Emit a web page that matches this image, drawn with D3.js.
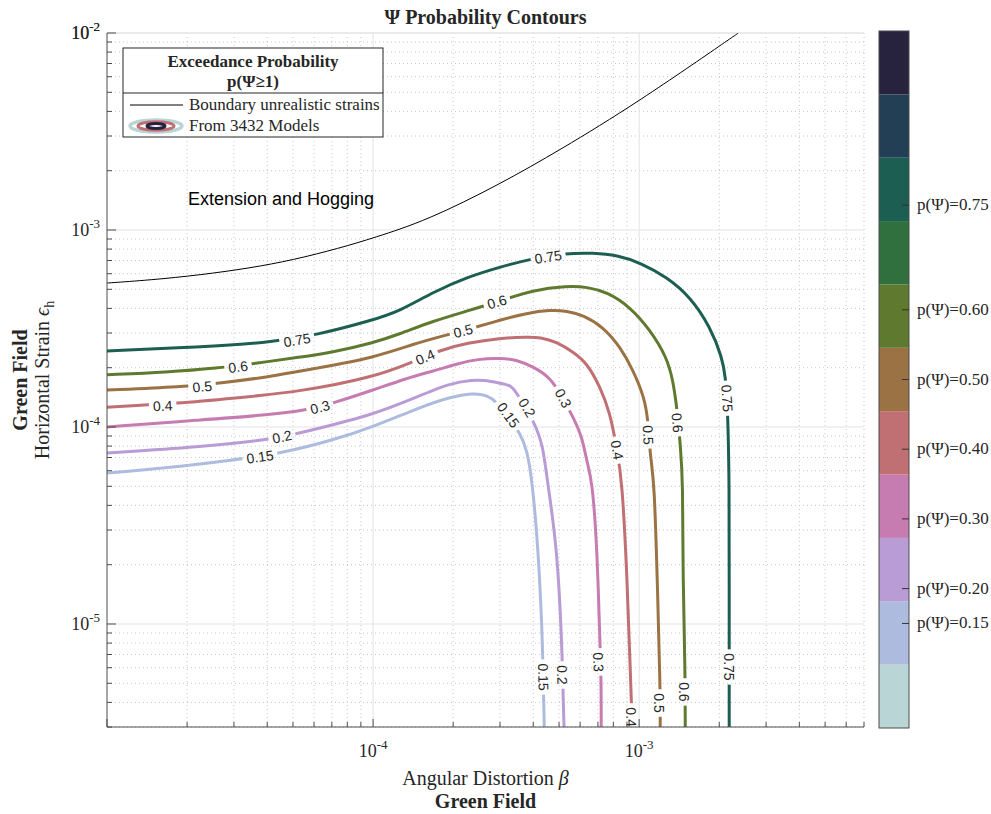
<!DOCTYPE html>
<html>
<head>
<meta charset="utf-8">
<script src="https://cdn.jsdelivr.net/npm/d3@7"></script>
<style>
  body { margin: 0; background: #fff; }
  svg { display: block; }
  .serif { font-family: "Liberation Serif", "Times New Roman", serif; fill: #262626; }
  .sans { font-family: "Liberation Sans", Arial, sans-serif; fill: #262626; }
</style>
</head>
<body>
<div id="chart"></div>
<script>
// levels drawn and colormap bands (bottom to top of colorbar)
const levels = [0.15, 0.2, 0.3, 0.4, 0.5, 0.6, 0.75];
const cmapColors = ["#b9d5d5", "#adbcde", "#b99bd6", "#c77cb1", "#c07073", "#9b7244",
                    "#5f7a2f", "#2f703e", "#1c5e52", "#233f55", "#27233f"];
const cbarTicks = [0.15, 0.2, 0.3, 0.4, 0.5, 0.6, 0.75];

// contour lines, [beta, eps_h]
const p015 = [[1.00e-5, 5.84e-5], [1.68e-5, 6.19e-5], [2.98e-5, 6.80e-5], [4.59e-5, 7.38e-5], [7.07e-5, 8.59e-5],
  [1.00e-4, 1.00e-4], [1.50e-4, 1.26e-4], [1.95e-4, 1.42e-4], [2.38e-4, 1.49e-4], [2.68e-4, 1.45e-4],
  [2.92e-4, 1.34e-4], [3.22e-4, 1.12e-4], [3.57e-4, 9.32e-5], [3.79e-4, 7.64e-5], [3.96e-4, 5.38e-5],
  [4.17e-4, 2.46e-5], [4.32e-4, 9.33e-6], [4.36e-4, 5.20e-6], [4.40e-4, 3.0e-6], [4.40e-4, 3.0e-6]];
const p02 = [[1.00e-5, 7.38e-5], [2.24e-5, 7.92e-5], [4.00e-5, 8.59e-5], [5.32e-5, 9.32e-5], [1.00e-4, 1.15e-4],
  [1.46e-4, 1.42e-4], [1.95e-4, 1.67e-4], [2.38e-4, 1.73e-4], [2.59e-4, 1.73e-4], [3.00e-4, 1.67e-4],
  [3.27e-4, 1.63e-4], [3.42e-4, 1.54e-4], [4.06e-4, 1.05e-4], [4.36e-4, 7.92e-5], [4.51e-4, 5.38e-5],
  [4.92e-4, 2.46e-5], [5.13e-4, 7.64e-6], [5.18e-4, 4.26e-6], [5.22e-4, 3.0e-6], [5.22e-4, 3.0e-6]];
const p03 = [[1.00e-5, 1.00e-4], [2.24e-5, 1.085e-4], [4.00e-5, 1.15e-4], [5.65e-5, 1.22e-4], [7.07e-5, 1.32e-4],
  [1.00e-4, 1.54e-4], [1.34e-4, 1.77e-4], [1.68e-4, 1.92e-4], [2.12e-4, 2.11e-4], [2.46e-4, 2.21e-4],
  [3.00e-4, 2.24e-4], [3.48e-4, 2.19e-4], [4.00e-4, 2.02e-4], [4.63e-4, 1.79e-4], [5.18e-4, 1.40e-4],
  [5.65e-4, 1.12e-4], [6.11e-4, 8.90e-5], [6.37e-4, 6.56e-5], [6.66e-4, 5.38e-5], [6.95e-4, 2.46e-5],
  [7.13e-4, 7.64e-6], [7.20e-4, 5.20e-6], [7.20e-4, 3.0e-6], [7.20e-4, 3.0e-6]];
const p04 = [[1.00e-5, 1.26e-4], [1.88e-5, 1.32e-4], [2.98e-5, 1.40e-4], [5.32e-5, 1.51e-4], [1.00e-4, 1.79e-4],
  [1.377e-4, 2.11e-4], [1.79e-4, 2.46e-4], [2.26e-4, 2.67e-4], [3.00e-4, 2.83e-4], [3.79e-4, 2.86e-4],
  [4.24e-4, 2.86e-4], [4.92e-4, 2.70e-4], [5.65e-4, 2.40e-4], [6.37e-4, 2.11e-4], [7.13e-4, 1.60e-4],
  [7.78e-4, 1.18e-4], [8.26e-4, 7.64e-5], [8.63e-4, 5.38e-5], [9.02e-4, 1.67e-5], [9.25e-4, 6.05e-6],
  [9.42e-4, 3.0e-6], [9.42e-4, 3.0e-6]];
const p05 = [[1.00e-5, 1.54e-4], [1.93e-5, 1.60e-4], [2.66e-5, 1.67e-4], [4.00e-5, 1.79e-4], [6.15e-5, 1.99e-4],
  [1.00e-4, 2.24e-4], [1.46e-4, 2.67e-4], [1.83e-4, 2.90e-4], [2.46e-4, 3.22e-4], [3.00e-4, 3.49e-4],
  [3.79e-4, 3.79e-4], [4.63e-4, 3.93e-4], [5.36e-4, 3.88e-4], [6.16e-4, 3.70e-4], [7.33e-4, 3.22e-4],
  [8.49e-4, 2.55e-4], [9.48e-4, 1.95e-4], [1.045e-3, 1.42e-4], [1.081e-3, 1.085e-4], [1.10e-3, 7.05e-5],
  [1.14e-3, 5.38e-5], [1.17e-3, 1.67e-5], [1.20e-3, 4.79e-6], [1.20e-3, 3.0e-6], [1.20e-3, 3.0e-6]];
const p06 = [[1.00e-5, 1.84e-4], [1.68e-5, 1.90e-4], [2.59e-5, 1.99e-4], [3.66e-5, 2.11e-4], [5.32e-5, 2.26e-4],
  [7.07e-5, 2.40e-4], [1.00e-4, 2.67e-4], [1.263e-4, 2.97e-4], [1.68e-4, 3.45e-4], [2.26e-4, 3.88e-4],
  [2.92e-4, 4.31e-4], [4.00e-4, 4.96e-4], [5.36e-4, 5.20e-4], [6.37e-4, 5.14e-4], [7.59e-4, 4.84e-4],
  [9.25e-4, 4.07e-4], [1.10e-3, 3.11e-4], [1.27e-3, 2.26e-4], [1.34e-3, 1.73e-4], [1.39e-3, 1.22e-4],
  [1.43e-3, 7.92e-5], [1.46e-3, 5.38e-5], [1.46e-3, 1.67e-5], [1.49e-3, 5.64e-6], [1.49e-3, 3.0e-6],
  [1.49e-3, 3.0e-6]];
const p075 = [[1.00e-5, 2.43e-4], [2.24e-5, 2.55e-4], [4.00e-5, 2.67e-4], [6.15e-5, 2.93e-4], [1.00e-4, 3.49e-4],
  [1.263e-4, 3.88e-4], [1.68e-4, 4.84e-4], [2.26e-4, 5.77e-4], [3.00e-4, 6.49e-4], [3.89e-4, 7.12e-4],
  [5.36e-4, 7.64e-4], [6.71e-4, 7.64e-4], [8.26e-4, 7.46e-4], [1.017e-3, 6.80e-4], [1.27e-3, 5.77e-4],
  [1.56e-3, 4.57e-4], [1.85e-3, 3.22e-4], [2.05e-3, 2.26e-4], [2.11e-3, 1.79e-4], [2.14e-3, 1.37e-4],
  [2.16e-3, 9.65e-5], [2.18e-3, 5.38e-5], [2.18e-3, 1.67e-5], [2.18e-3, 3.0e-6], [2.18e-3, 3.0e-6]];
const contourLines = [p015, p02, p03, p04, p05, p06, p075];

// where the inline labels sit on each contour
const lab015 = [[3.76e-5, 7.05e-5], [3.22e-4, 1.15e-4], [4.36e-4, 5.38e-6]];
const lab02 = [[4.55e-5, 8.90e-5], [3.79e-4, 1.25e-4], [5.13e-4, 5.51e-6]];
const lab03 = [[6.32e-5, 1.26e-4], [5.18e-4, 1.40e-4], [7.02e-4, 6.41e-6]];
const lab04 = [[1.62e-5, 1.28e-4], [1.57e-4, 2.26e-4], [8.26e-4, 7.64e-5], [9.33e-4, 3.37e-6]];
const lab05 = [[2.28e-5, 1.60e-4], [2.18e-4, 3.07e-4], [1.081e-3, 9.11e-5], [1.19e-3, 3.97e-6]];
const lab06 = [[3.11e-5, 2.02e-4], [2.92e-4, 4.31e-4], [1.39e-3, 1.05e-4], [1.476e-3, 4.52e-6]];
const lab075 = [[5.18e-5, 2.76e-4], [4.55e-4, 7.29e-4], [2.14e-3, 1.40e-4], [2.18e-3, 6.05e-6]];
const contourLabels = [lab015, lab02, lab03, lab04, lab05, lab06, lab075];

// boundary of unrealistic strains
const boundary = [[1.00e-5, 5.38e-4], [1.00e-5, 5.38e-4], [1.45e-5, 5.57e-4], [2.24e-5, 5.91e-4], [3.45e-5, 6.41e-4],
  [5.00e-5, 7.04e-4], [7.51e-5, 8.10e-4], [1.00e-4, 9.10e-4], [1.60e-4, 1.12e-3], [3.00e-4, 1.71e-3],
  [5.05e-4, 2.55e-3], [9.82e-4, 4.42e-3], [2.36e-3, 1.00e-2], [2.36e-3, 1.00e-2]];

const xDomain = [1e-5, 7e-3];
const yDomain = [3e-6, 1e-2];

const margin = {top: 33, right: 127, bottom: 87, left: 107};
const width = 991 - margin.left - margin.right;
const height = 814 - margin.top - margin.bottom;

const svg = d3.select("#chart").append("svg")
  .attr("width", 991)
  .attr("height", 814);

const x = d3.scaleLog().domain(xDomain).range([0, width]);
const y = d3.scaleLog().domain(yDomain).range([height, 0]);
const cb = d3.scaleLinear().domain([0, 1]).range([728, 31]);
const colorOf = v => cmapColors[Math.floor(v * cmapColors.length)];
const isMajor = v => Math.abs(Math.log10(v) - Math.round(Math.log10(v))) < 1e-6;

const defs = svg.append("defs");
defs.append("clipPath").attr("id", "plotClip")
  .append("rect").attr("width", width).attr("height", height);

const g = svg.append("g").attr("transform", `translate(${margin.left},${margin.top})`);

// grid
const xt = x.ticks(), yt = y.ticks();
const xMajor = xt.filter(v => isMajor(v) && v > xDomain[0] * 1.001);
const yMajor = yt.filter(isMajor).concat([yDomain[1]]);
g.append("g").selectAll("line").data(xt.filter(v => !isMajor(v))).join("line")
  .attr("x1", d => x(d)).attr("x2", d => x(d)).attr("y1", 0).attr("y2", height)
  .attr("stroke", "#c8c8c8").attr("stroke-dasharray", "1,3");
g.append("g").selectAll("line").data(yt.filter(v => !isMajor(v))).join("line")
  .attr("y1", d => y(d)).attr("y2", d => y(d)).attr("x1", 0).attr("x2", width)
  .attr("stroke", "#c8c8c8").attr("stroke-dasharray", "1,3");
g.append("g").selectAll("line").data(xMajor).join("line")
  .attr("x1", d => x(d)).attr("x2", d => x(d)).attr("y1", 0).attr("y2", height)
  .attr("stroke", "#e3e3e3");
g.append("g").selectAll("line").data(yMajor).join("line")
  .attr("y1", d => y(d)).attr("y2", d => y(d)).attr("x1", 0).attr("x2", width)
  .attr("stroke", "#e3e3e3");

const line = d3.line().x(d => x(d[0])).y(d => y(d[1])).curve(d3.curveBasis);

// angle of the contour near a label, in screen space
function labelAngle(pts, lx, ly) {
  let best = Infinity, ang = 0;
  for (let i = 0; i < pts.length - 1; i++) {
    const x1 = x(pts[i][0]), y1 = y(pts[i][1]), x2 = x(pts[i + 1][0]), y2 = y(pts[i + 1][1]);
    if (x1 === x2 && y1 === y2) continue;
    const mx = (x1 + x2) / 2, my = (y1 + y2) / 2;
    const dd = (mx - lx) ** 2 + (my - ly) ** 2;
    if (dd < best) { best = dd; ang = Math.atan2(y2 - y1, x2 - x1) * 180 / Math.PI; }
  }
  if (ang > 90) ang -= 180;
  if (ang <= -90) ang += 180;
  return ang;
}

const plot = g.append("g").attr("clip-path", "url(#plotClip)");
const labelLayer = g.append("g").attr("clip-path", "url(#plotClip)");

levels.forEach((lev, i) => {
  const pts = [contourLines[i][0]].concat(contourLines[i]);
  const txt = String(lev);
  const mask = defs.append("mask").attr("id", "m" + i).attr("maskUnits", "userSpaceOnUse")
    .attr("x", -50).attr("y", -50).attr("width", width + 100).attr("height", height + 100);
  mask.append("rect").attr("x", -50).attr("y", -50).attr("width", width + 100).attr("height", height + 100)
    .attr("fill", "#fff");

  contourLabels[i].forEach(p => {
    const lx = x(p[0]), ly = y(p[1]);
    const a = labelAngle(pts, lx, ly);
    const t = labelLayer.append("text").attr("class", "sans")
      .attr("transform", `translate(${lx},${ly}) rotate(${a})`)
      .attr("text-anchor", "middle").attr("dy", "0.35em")
      .style("font-size", "14px").text(txt);
    const w = t.node().getComputedTextLength() + 8;
    mask.append("rect").attr("x", -w / 2).attr("y", -8).attr("width", w).attr("height", 16)
      .attr("transform", `translate(${lx},${ly}) rotate(${a})`).attr("fill", "#000");
  });

  plot.append("g").attr("mask", `url(#m${i})`)
    .append("path").datum(pts)
    .attr("d", line).attr("fill", "none")
    .attr("stroke", colorOf(lev)).attr("stroke-width", 3);
});

plot.append("path").datum(boundary).attr("d", line).attr("fill", "none")
  .attr("stroke", "#000").attr("stroke-width", 1);

g.append("text").attr("class", "sans").attr("x", 81).attr("y", 172)
  .style("font-size", "18px").style("fill", "#000").text("Extension and Hogging");

// axes lines and inward ticks
g.append("line").attr("x1", 0).attr("x2", 0).attr("y1", 0).attr("y2", height).attr("stroke", "#4d4d4d");
g.append("line").attr("x1", 0).attr("x2", width).attr("y1", height).attr("y2", height).attr("stroke", "#4d4d4d");
g.append("g").selectAll("line").data(yt).join("line")
  .attr("x1", 0).attr("x2", d => isMajor(d) ? 9 : 5)
  .attr("y1", d => y(d)).attr("y2", d => y(d)).attr("stroke", "#4d4d4d");
g.append("g").selectAll("line").data(xt).join("line")
  .attr("y1", height).attr("y2", d => height - (isMajor(d) ? 8 : 5))
  .attr("x1", d => x(d)).attr("x2", d => x(d)).attr("stroke", "#4d4d4d");

// tick labels
const yLab = g.append("g").selectAll("text").data(yMajor).join("text")
  .attr("class", "serif").attr("x", -7).attr("y", d => y(d) + 6)
  .attr("text-anchor", "end").style("font-size", "18px");
yLab.append("tspan").text("10");
yLab.append("tspan").attr("dy", -8).style("font-size", "13px").text(d => "-" + Math.round(-Math.log10(d)));

const xLab = g.append("g").selectAll("text").data(xMajor).join("text")
  .attr("class", "serif").attr("x", d => x(d)).attr("y", height + 30)
  .attr("text-anchor", "middle").style("font-size", "18px");
xLab.append("tspan").text("10");
xLab.append("tspan").attr("dy", -8).style("font-size", "13px").text(d => "-" + Math.round(-Math.log10(d)));

// titles
svg.append("text").attr("class", "serif").attr("x", margin.left + width / 2).attr("y", 24)
  .attr("text-anchor", "middle").style("font-size", "20px").style("font-weight", "bold")
  .text("Ψ Probability Contours");

const xl = svg.append("text").attr("class", "serif").attr("x", margin.left + width / 2).attr("y", 785)
  .attr("text-anchor", "middle").style("font-size", "20px");
xl.append("tspan").text("Angular Distortion ");
xl.append("tspan").style("font-style", "italic").text("β");
svg.append("text").attr("class", "serif").attr("x", margin.left + width / 2).attr("y", 808)
  .attr("text-anchor", "middle").style("font-size", "20px").style("font-weight", "bold").text("Green Field");

const cy = margin.top + height / 2;
svg.append("text").attr("class", "serif").attr("transform", `translate(27,${cy}) rotate(-90)`)
  .attr("text-anchor", "middle").style("font-size", "20px").style("font-weight", "bold").text("Green Field");
const yl = svg.append("text").attr("class", "serif").attr("transform", `translate(49,${cy}) rotate(-90)`)
  .attr("text-anchor", "middle").style("font-size", "20px");
yl.append("tspan").text("Horizontal Strain ");
yl.append("tspan").style("font-style", "italic").text("ϵ");
yl.append("tspan").attr("dy", 5).style("font-size", "14px").text("h");

// legend
const lg = svg.append("g").attr("transform", "translate(123,48)");
lg.append("rect").attr("width", 260).attr("height", 89).attr("fill", "#fff").attr("stroke", "#262626");
lg.append("line").attr("x1", 0).attr("x2", 260).attr("y1", 45).attr("y2", 45).attr("stroke", "#262626");
lg.append("text").attr("class", "serif").attr("x", 130).attr("y", 19).attr("text-anchor", "middle")
  .style("font-size", "17px").style("font-weight", "bold").text("Exceedance Probability");
lg.append("text").attr("class", "serif").attr("x", 130).attr("y", 39).attr("text-anchor", "middle")
  .style("font-size", "17px").style("font-weight", "bold").text("p(Ψ≥1)");
lg.append("line").attr("x1", 7).attr("x2", 60).attr("y1", 57).attr("y2", 57).attr("stroke", "#000");
lg.append("text").attr("class", "serif").attr("x", 66).attr("y", 62).style("font-size", "17px")
  .text("Boundary unrealistic strains");
const icon = lg.append("g").attr("transform", "translate(33,78)");
[[26, 6, cmapColors[0], 3.5], [18, 4.3, cmapColors[4], 3], [9, 2.4, cmapColors[10], 3]].forEach(e => {
  icon.append("ellipse").attr("rx", e[0]).attr("ry", e[1]).attr("fill", "none")
    .attr("stroke", e[2]).attr("stroke-width", e[3]);
});
lg.append("text").attr("class", "serif").attr("x", 66).attr("y", 83).style("font-size", "17px")
  .text("From 3432 Models");

// colorbar
const cbx = 879, cbw = 30;
const nb = cmapColors.length;
svg.append("g").selectAll("rect").data(cmapColors).join("rect")
  .attr("x", cbx).attr("width", cbw)
  .attr("y", (d, i) => cb((i + 1) / nb)).attr("height", (d, i) => cb(i / nb) - cb((i + 1) / nb))
  .attr("fill", d => d);
svg.append("rect").attr("x", cbx).attr("y", cb(1)).attr("width", cbw).attr("height", cb(0) - cb(1))
  .attr("fill", "none").attr("stroke", "#4d4d4d");
svg.append("g").selectAll("line").data(cbarTicks).join("line")
  .attr("x1", cbx + cbw - 7).attr("x2", cbx + cbw).attr("y1", d => cb(d)).attr("y2", d => cb(d))
  .attr("stroke", "#333");
svg.append("g").selectAll("text").data(cbarTicks).join("text")
  .attr("class", "serif").attr("x", cbx + cbw + 8).attr("y", d => cb(d) + 5)
  .style("font-size", "17px").text(d => "p(Ψ)=" + d.toFixed(2));
</script>
</body>
</html>
